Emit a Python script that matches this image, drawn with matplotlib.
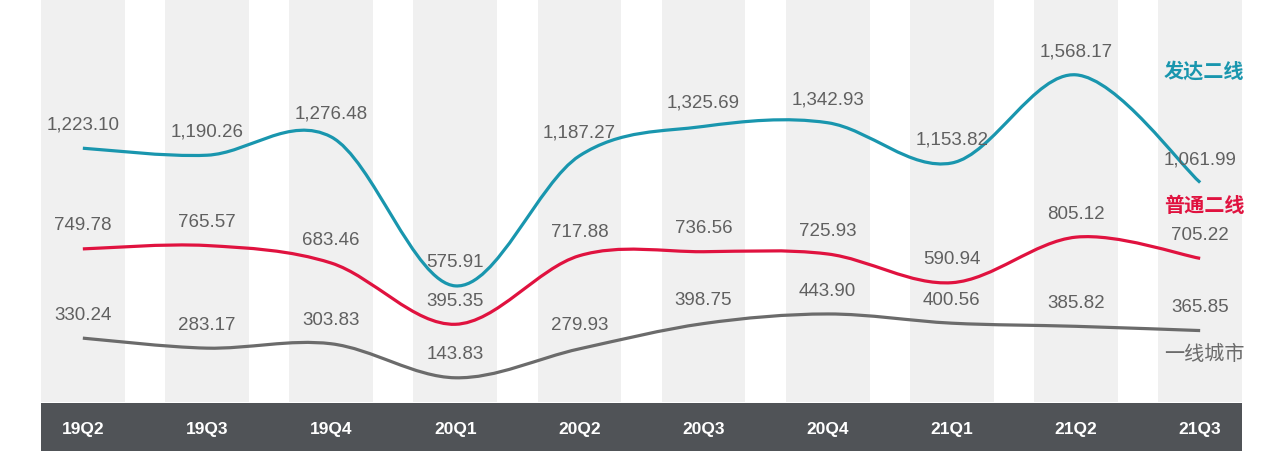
import numpy as np
import matplotlib
matplotlib.use("Agg")
import matplotlib.pyplot as plt
from matplotlib.path import Path
from matplotlib.patches import PathPatch

plt.rcParams["font.family"] = ["Liberation Sans", "Noto Sans CJK SC", "DejaVu Sans"]

quarters = ["19Q2", "19Q3", "19Q4", "20Q1", "20Q2", "20Q3", "20Q4", "21Q1", "21Q2", "21Q3"]
developed_t2 = [1223.10, 1190.26, 1276.48, 575.91, 1187.27, 1325.69, 1342.93, 1153.82, 1568.17, 1061.99]
ordinary_t2 = [749.78, 765.57, 683.46, 395.35, 717.88, 736.56, 725.93, 590.94, 805.12, 705.22]
tier1 = [330.24, 283.17, 303.83, 143.83, 279.93, 398.75, 443.90, 400.56, 385.82, 365.85]
series_names = ["发达二线", "普通二线", "一线城市"]

TEAL = "#1996ae"
RED = "#e0123f"
GRAY = "#6b6b6b"
LABEL = "#606060"
BAND = "#f0f0f0"
BAR = "#505357"


def smooth_path(xs, ys):
    """Catmull-Rom style cubic Bezier through the points (like Excel smoothing)."""
    xs = np.asarray(xs, float); ys = np.asarray(ys, float)
    px = np.concatenate([[xs[0]], xs, [xs[-1]]])
    py = np.concatenate([[ys[0]], ys, [ys[-1]]])
    verts = [(xs[0], ys[0])]
    codes = [Path.MOVETO]
    for i in range(1, len(px) - 2):
        c1 = (px[i] + (px[i + 1] - px[i - 1]) / 6, py[i] + (py[i + 1] - py[i - 1]) / 6)
        c2 = (px[i + 1] - (px[i + 2] - px[i]) / 6, py[i + 1] - (py[i + 2] - py[i]) / 6)
        verts += [c1, c2, (px[i + 1], py[i + 1])]
        codes += [Path.CURVE4] * 3
    return Path(verts, codes)


fig = plt.figure(figsize=(12.8, 4.51), dpi=100)
W, H = 1280, 451
left, right = 41 / W, 1242 / W
ax = fig.add_axes([left, 1 - 402 / H, right - left, 402 / H])
bar = fig.add_axes([left, 0, right - left, 48 / H])

x = np.arange(len(quarters))
half = 0.337
for xi in x:
    ax.axvspan(xi - half, xi + half, color=BAND, lw=0, zorder=0)
ax.set_xlim(-half, len(quarters) - 1 + half)
ax.set_ylim(30, 1920)
ax.axis("off")

for vals, col in [(developed_t2, TEAL), (ordinary_t2, RED), (tier1, GRAY)]:
    ax.add_patch(PathPatch(smooth_path(x, vals), facecolor="none", edgecolor=col,
                           lw=2.3, capstyle="butt", zorder=3))
    for xi, v in zip(x, vals):
        ax.annotate(f"{v:,.2f}", (xi, v), xytext=(0, 16.5), textcoords="offset points",
                    ha="center", va="center", fontsize=13.5, color=LABEL, zorder=4)

name_y = [71, 206, 355]
for name, col, yp in zip(series_names, [TEAL, RED, GRAY], name_y):
    fig.text(1204 / W, 1 - yp / H, name, ha="center", va="center", fontsize=14.5,
             color=col, fontweight="bold" if col != GRAY else "normal",
             family=["Noto Sans CJK SC", "DejaVu Sans"])

bar.set_facecolor(BAR)
bar.set_xlim(ax.get_xlim()); bar.set_ylim(0, 1)
for xi, q in zip(x, quarters):
    bar.text(xi, 0.45, q, ha="center", va="center", color="white", fontsize=12.5,
             fontweight="bold")
bar.set_xticks([]); bar.set_yticks([])
for s in bar.spines.values():
    s.set_visible(False)

fig.savefig("out.png", dpi=100, facecolor="white")
